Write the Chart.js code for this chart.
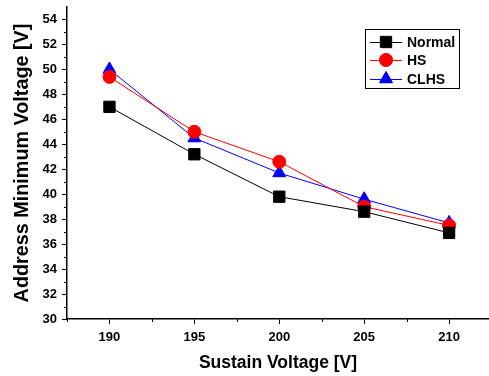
<!DOCTYPE html>
<html>
<head>
<meta charset="utf-8">
<script src="https://cdn.jsdelivr.net/npm/chart.js@4/dist/chart.umd.min.js"></script>
<style>
  html, body { margin: 0; padding: 0; background: #fff; }
  #wrap { width: 489px; height: 376px; }
</style>
</head>
<body>
<div id="wrap"><canvas id="chart" width="489" height="376"></canvas></div>
<script>
// data
const sustainVoltage = [190, 195, 200, 205, 210];
const normalValues = [47.0, 43.2, 39.8, 38.6, 36.9];
const hsValues = [49.4, 45.0, 42.6, 39.0, 37.5];
const clhsValues = [50.0, 44.5, 41.7, 39.6, 37.7];
const seriesNames = ['Normal', 'HS', 'CLHS'];
const yTickLabels = [30, 32, 34, 36, 38, 40, 42, 44, 46, 48, 50, 52, 54];

const FONT = '"Liberation Sans", Arial, sans-serif';

function toPoints(values) {
  return sustainVoltage.map((x, i) => ({ x: x, y: values[i] }));
}

// short minor ticks half way between the labelled ones
const minorTicks = {
  id: 'minorTicks',
  afterDraw(chart) {
    const ctx = chart.ctx;
    const xs = chart.scales.x, ys = chart.scales.y;
    ctx.save();
    ctx.strokeStyle = '#000';
    ctx.lineWidth = 1;
    ctx.beginPath();
    const xStep = sustainVoltage[1] - sustainVoltage[0];
    for (let v = sustainVoltage[0] - xStep / 2; v <= xs.max; v += xStep) {
      const px = Math.round(xs.getPixelForValue(v)) + 0.5;
      ctx.moveTo(px, xs.top);
      ctx.lineTo(px, xs.top + 3);
    }
    for (let v = yTickLabels[0] + 1; v < ys.max; v += 2) {
      const py = Math.round(ys.getPixelForValue(v)) + 0.5;
      ctx.moveTo(ys.right, py);
      ctx.lineTo(ys.right - 3, py);
    }
    ctx.stroke();
    ctx.restore();
  }
};

// legend in a box, line through the marker like the original
const boxLegend = {
  id: 'boxLegend',
  afterDraw(chart) {
    const ctx = chart.ctx;
    const left = 365, top = 29, w = 94, h = 59;
    ctx.save();
    ctx.fillStyle = '#fff';
    ctx.fillRect(left, top, w, h);
    ctx.strokeStyle = '#000';
    ctx.lineWidth = 1;
    ctx.strokeRect(left + 0.5, top + 0.5, w, h);
    const rows = [42, 60, 79];
    chart.data.datasets.forEach((ds, i) => {
      const y = rows[i];
      ctx.strokeStyle = ds.borderColor;
      ctx.lineWidth = 1;
      ctx.beginPath();
      ctx.moveTo(370, y + 0.5);
      ctx.lineTo(402, y + 0.5);
      ctx.stroke();
      Chart.helpers.drawPoint(ctx, {
        pointStyle: ds.pointStyle,
        radius: ds.pointRadius,
        borderWidth: 1
      }, 386, y);
      ctx.fillStyle = ds.pointBackgroundColor;
      ctx.fill();
      ctx.fillStyle = '#000';
      ctx.font = 'bold 14px ' + FONT;
      ctx.textBaseline = 'middle';
      ctx.textAlign = 'left';
      ctx.fillText(ds.label, 407, y + 1);
    });
    ctx.restore();
  }
};

const ctx = document.getElementById('chart').getContext('2d');
const chart = new Chart(ctx, {
  type: 'line',
  data: {
    datasets: [
      {
        label: seriesNames[0],
        data: toPoints(normalValues),
        borderColor: '#000',
        backgroundColor: '#000',
        pointBackgroundColor: '#000',
        pointBorderColor: '#000',
        pointStyle: 'rect',
        pointRadius: 8,
        borderWidth: 1
      },
      {
        label: seriesNames[1],
        data: toPoints(hsValues),
        borderColor: '#ff0000',
        backgroundColor: '#ff0000',
        pointBackgroundColor: '#ff0000',
        pointBorderColor: '#ff0000',
        pointStyle: 'circle',
        pointRadius: 6.5,
        borderWidth: 1
      },
      {
        label: seriesNames[2],
        data: toPoints(clhsValues),
        borderColor: '#0000ff',
        backgroundColor: '#0000ff',
        pointBackgroundColor: '#0000ff',
        pointBorderColor: '#0000ff',
        pointStyle: 'triangle',
        pointRadius: 7.5,
        borderWidth: 1
      }
    ]
  },
  options: {
    responsive: false,
    animation: false,
    layout: { autoPadding: false, padding: { top: 7, right: 0, left: 0, bottom: 0 } },
    plugins: {
      legend: { display: false },
      tooltip: { enabled: false }
    },
    scales: {
      x: {
        type: 'linear',
        min: 187.5,
        max: 212.35,
        afterFit(scale) {
          scale.height = 57;
          scale.paddingLeft = 0;
          scale.paddingRight = 0;
        },
        afterBuildTicks(scale) { scale.ticks = sustainVoltage.map(v => ({ value: v })); },
        ticks: {
          autoSkip: false,
          maxRotation: 0,
          padding: 6,
          color: '#000',
          font: { family: FONT, size: 13, weight: 'bold' }
        },
        grid: { drawOnChartArea: false, tickLength: 5, color: '#000' },
        border: { color: '#000', width: 1.5 },
        title: {
          display: true,
          text: 'Sustain Voltage [V]',
          color: '#000',
          font: { family: FONT, size: 17.5, weight: 'bold' },
          padding: { top: 0, bottom: 2 }
        }
      },
      y: {
        min: 30,
        max: 55,
        afterFit(scale) {
          scale.width = 67;
          scale.paddingTop = 0;
          scale.paddingBottom = 0;
        },
        afterBuildTicks(scale) { scale.ticks = yTickLabels.map(v => ({ value: v })); },
        ticks: {
          autoSkip: false,
          padding: 5,
          color: '#000',
          font: { family: FONT, size: 13, weight: 'bold' }
        },
        grid: { drawOnChartArea: false, tickLength: 5, color: '#000' },
        border: { color: '#000', width: 1.5 },
        title: {
          display: true,
          text: 'Address Minimum Voltage [V]',
          color: '#000',
          font: { family: FONT, size: 19.8, weight: 'bold' },
          padding: { top: 11, bottom: 0 }
        }
      }
    }
  },
  plugins: [minorTicks, boxLegend]
});
</script>
</body>
</html>
